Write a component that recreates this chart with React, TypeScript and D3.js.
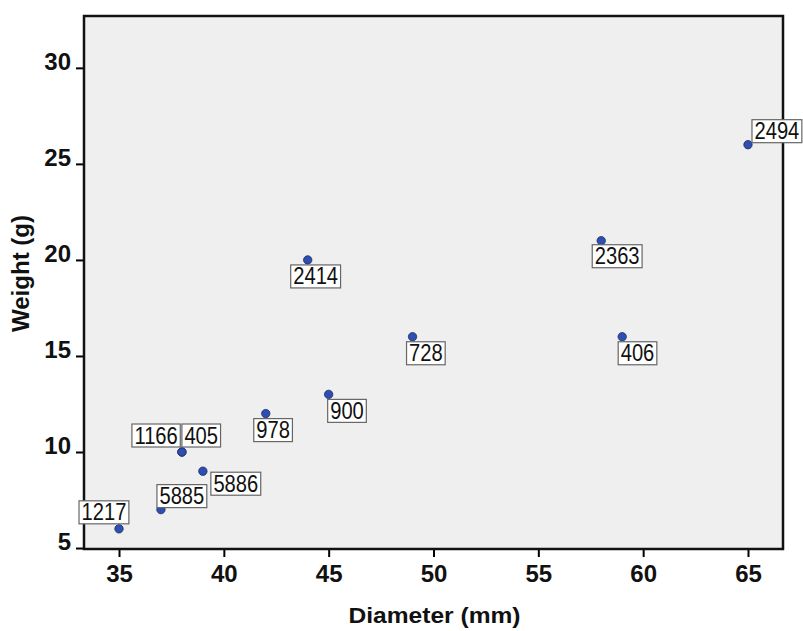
import React, { useEffect, useRef } from "react";
import * as d3 from "d3";

// ---- data ----
const caseIds = ["1217", "5885", "1166", "405", "5886", "978", "900", "2414", "728", "2363", "406", "2494"];
const diameters = [35, 37, 38, 38, 39, 42, 45, 44, 49, 58, 59, 65];
const weights = [6, 7, 10, 10, 9, 12, 13, 20, 16, 21, 16, 26];
const xTicks = [35, 40, 45, 50, 55, 60, 65];
const yTicks = [5, 10, 15, 20, 25, 30];
const xTitle = "Diameter (mm)";
const yTitle = "Weight (g)";

// label box placement relative to point (layout only)
const labelDx = [-40, -4, -50, 0, 8, -12, -1, -17, -6, -9, -4, 4];
const labelDy = [-28, -25, -28, -28, 1, 5, 5, 5, 5, 4, 5, -25];

const W = 803, H = 631;
const M = { left: 84, top: 16, right: 783, bottom: 549 };

export default function App() {
  const ref = useRef<SVGSVGElement>(null);
  useEffect(() => {
    const svg = d3.select(ref.current);
    svg.selectAll("*").remove();
    const x = d3.scaleLinear().domain([33.33, 66.67]).range([M.left, M.right]);
    const y = d3.scaleLinear().domain([4.95, 32.7]).range([M.bottom, M.top]);

    svg.append("rect").attr("x", M.left).attr("y", M.top)
      .attr("width", M.right - M.left).attr("height", M.bottom - M.top)
      .attr("fill", "#efefef").attr("stroke", "none");

    // axes
    const xAxis = svg.append("g").attr("transform", `translate(0,${M.bottom})`)
      .call(d3.axisBottom(x).tickValues(xTicks).tickSize(8).tickPadding(8).tickFormat(d3.format("d")));
    xAxis.select(".domain").remove();
    xAxis.selectAll("line").attr("stroke", "#000").attr("stroke-width", 2);
    xAxis.selectAll("text").attr("font-family", "Liberation Sans, Arial, sans-serif")
      .attr("font-size", 24).attr("font-weight", "bold").attr("fill", "#111");

    const yAxis = svg.append("g").attr("transform", `translate(${M.left},0)`)
      .call(d3.axisLeft(y).tickValues(yTicks).tickSize(8).tickPadding(5).tickFormat(d3.format("d")));
    yAxis.select(".domain").remove();
    yAxis.selectAll("line").attr("stroke", "#000").attr("stroke-width", 2);
    yAxis.selectAll("text").attr("font-family", "Liberation Sans, Arial, sans-serif")
      .attr("font-size", 24).attr("font-weight", "bold").attr("fill", "#111").attr("dy", "0.08em");

    // frame
    svg.append("rect").attr("x", M.left).attr("y", M.top)
      .attr("width", M.right - M.left).attr("height", M.bottom - M.top)
      .attr("fill", "none").attr("stroke", "#111").attr("stroke-width", 2.5);

    // titles
    svg.append("text").attr("x", (M.left + M.right) / 2 + 1).attr("y", 623)
      .attr("text-anchor", "middle").attr("font-family", "Liberation Sans, Arial, sans-serif")
      .attr("font-size", 22).attr("font-weight", "bold").attr("fill", "#111")
      .attr("textLength", 172).attr("lengthAdjust", "spacingAndGlyphs").text(xTitle);
    svg.append("text").attr("transform", `translate(29,${(M.top + M.bottom) / 2 - 9}) rotate(-90)`)
      .attr("text-anchor", "middle").attr("font-family", "Liberation Sans, Arial, sans-serif")
      .attr("font-size", 23).attr("font-weight", "bold").attr("fill", "#111")
      .attr("textLength", 117).attr("lengthAdjust", "spacingAndGlyphs").text(yTitle);

    // points
    const data = caseIds.map((id, i) => ({ id, d: diameters[i], w: weights[i], dx: labelDx[i], dy: labelDy[i] }));
    svg.append("g").selectAll("circle").data(data).join("circle")
      .attr("cx", (p) => x(p.d)).attr("cy", (p) => y(p.w)).attr("r", 4.2)
      .attr("fill", "#2f4fb0").attr("stroke", "#1b2a66").attr("stroke-width", 0.8);

    // labels (drawn after points so boxes overlap like the reference)
    const lg = svg.append("g");
    data.forEach((p) => {
      const g = lg.append("g").attr("transform", `translate(${x(p.d) + p.dx},${y(p.w) + p.dy})`);
      const rect = g.append("rect").attr("fill", "#fff").attr("stroke", "#666").attr("stroke-width", 1.2)
        .attr("height", 23).attr("x", 0).attr("y", 0);
      const t = g.append("text").attr("x", 2.5).attr("y", 19.5)
        .attr("font-family", "Liberation Sans, Arial, sans-serif")
        .attr("font-size", 24).attr("fill", "#111").text(p.id);
      const natural = (t.node() as SVGTextElement).getComputedTextLength();
      const len = natural * 0.84;
      t.attr("textLength", len).attr("lengthAdjust", "spacingAndGlyphs");
      rect.attr("width", len + 5);
    });
  }, []);
  return <svg ref={ref} width={W} height={H} style={{ display: "block", position: "absolute", left: 0, top: 0 }} />;
}
